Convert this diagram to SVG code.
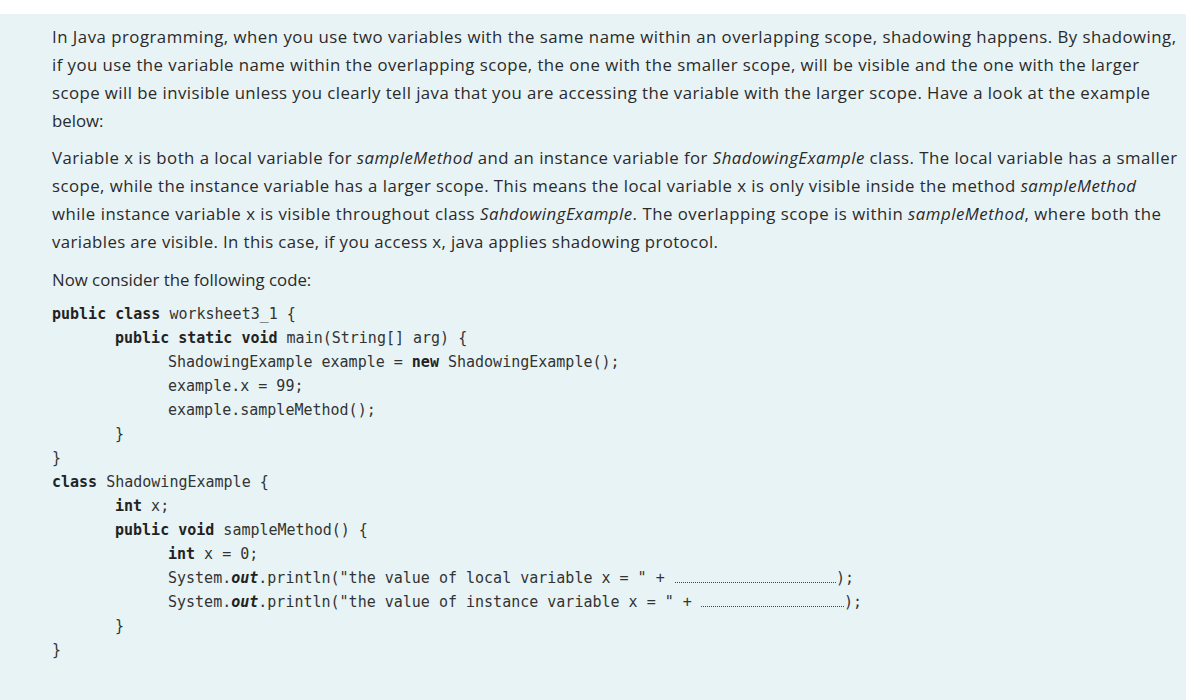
<svg xmlns="http://www.w3.org/2000/svg" width="1186" height="700" viewBox="0 0 1186 700">
<style>
.p{font-family:"Open Sans","Noto Sans",sans-serif;font-size:16.8px;fill:#2a2a2a}
.c{font-family:"DejaVu Sans Mono","Liberation Mono",monospace;font-size:15px;fill:#333}
.k{font-weight:bold;fill:#222}
.i{font-style:italic}
.d{stroke:#444;stroke-width:1;stroke-dasharray:1 1}
</style>
<rect width="1186" height="700" fill="#e8f3f6"/>
<rect width="1186" height="14" fill="#fff"/>
<g id="para1">
<text class="p" x="52" y="43" textLength="1124" lengthAdjust="spacing">In Java programming, when you use two variables with the same name within an overlapping scope, shadowing happens. By shadowing,</text>
<text class="p" x="52" y="71" textLength="1087" lengthAdjust="spacing">if you use the variable name within the overlapping scope, the one with the smaller scope, will be visible and the one with the larger</text>
<text class="p" x="52" y="99" textLength="1098" lengthAdjust="spacing">scope will be invisible unless you clearly tell java that you are accessing the variable with the larger scope. Have a look at the example</text>
<text class="p" x="52" y="127">below:</text>
</g>
<g id="para2">
<text class="p" x="52" y="164" textLength="1125" lengthAdjust="spacing">Variable x is both a local variable for <tspan class="i">sampleMethod</tspan> and an instance variable for <tspan class="i">ShadowingExample</tspan> class. The local variable has a smaller</text>
<text class="p" x="52" y="192" textLength="1084" lengthAdjust="spacing">scope, while the instance variable has a larger scope. This means the local variable x is only visible inside the method <tspan class="i">sampleMethod</tspan></text>
<text class="p" x="52" y="220" textLength="1109" lengthAdjust="spacing">while instance variable x is visible throughout class <tspan class="i">SahdowingExample</tspan>. The overlapping scope is within <tspan class="i">sampleMethod</tspan>, where both the</text>
<text class="p" x="52" y="248" textLength="666" lengthAdjust="spacing">variables are visible. In this case, if you access x, java applies shadowing protocol.</text>
</g>
<g id="para3">
<text class="p" x="52" y="286">Now consider the following code:</text>
</g>
<g id="code">
<text class="c" x="52" y="319"><tspan class="k">public class</tspan> worksheet3_1 {</text>
<text class="c" x="115" y="343"><tspan class="k">public static void</tspan> main(String[] arg) {</text>
<text class="c" x="168" y="367">ShadowingExample example = <tspan class="k">new</tspan> ShadowingExample();</text>
<text class="c" x="168" y="391">example.x = 99;</text>
<text class="c" x="168" y="415">example.sampleMethod();</text>
<text class="c" x="115" y="439">}</text>
<text class="c" x="52" y="463">}</text>
<text class="c" x="52" y="487"><tspan class="k">class</tspan> ShadowingExample {</text>
<text class="c" x="115" y="511"><tspan class="k">int</tspan> x;</text>
<text class="c" x="115" y="535"><tspan class="k">public void</tspan> sampleMethod() {</text>
<text class="c" x="168" y="559"><tspan class="k">int</tspan> x = 0;</text>
<text class="c" x="168" y="583">System.<tspan class="k" font-style="italic">out</tspan>.println("the value of local variable x = " +</text>
<text class="c" x="836" y="583">);</text>
<text class="c" x="168" y="607">System.<tspan class="k" font-style="italic">out</tspan>.println("the value of instance variable x = " +</text>
<text class="c" x="844" y="607">);</text>
<text class="c" x="115" y="631">}</text>
<text class="c" x="52" y="655">}</text>
<line class="d" x1="675" y1="582.5" x2="836" y2="582.5"/>
<line class="d" x1="701" y1="606.5" x2="844" y2="606.5"/>
</g>
</svg>
